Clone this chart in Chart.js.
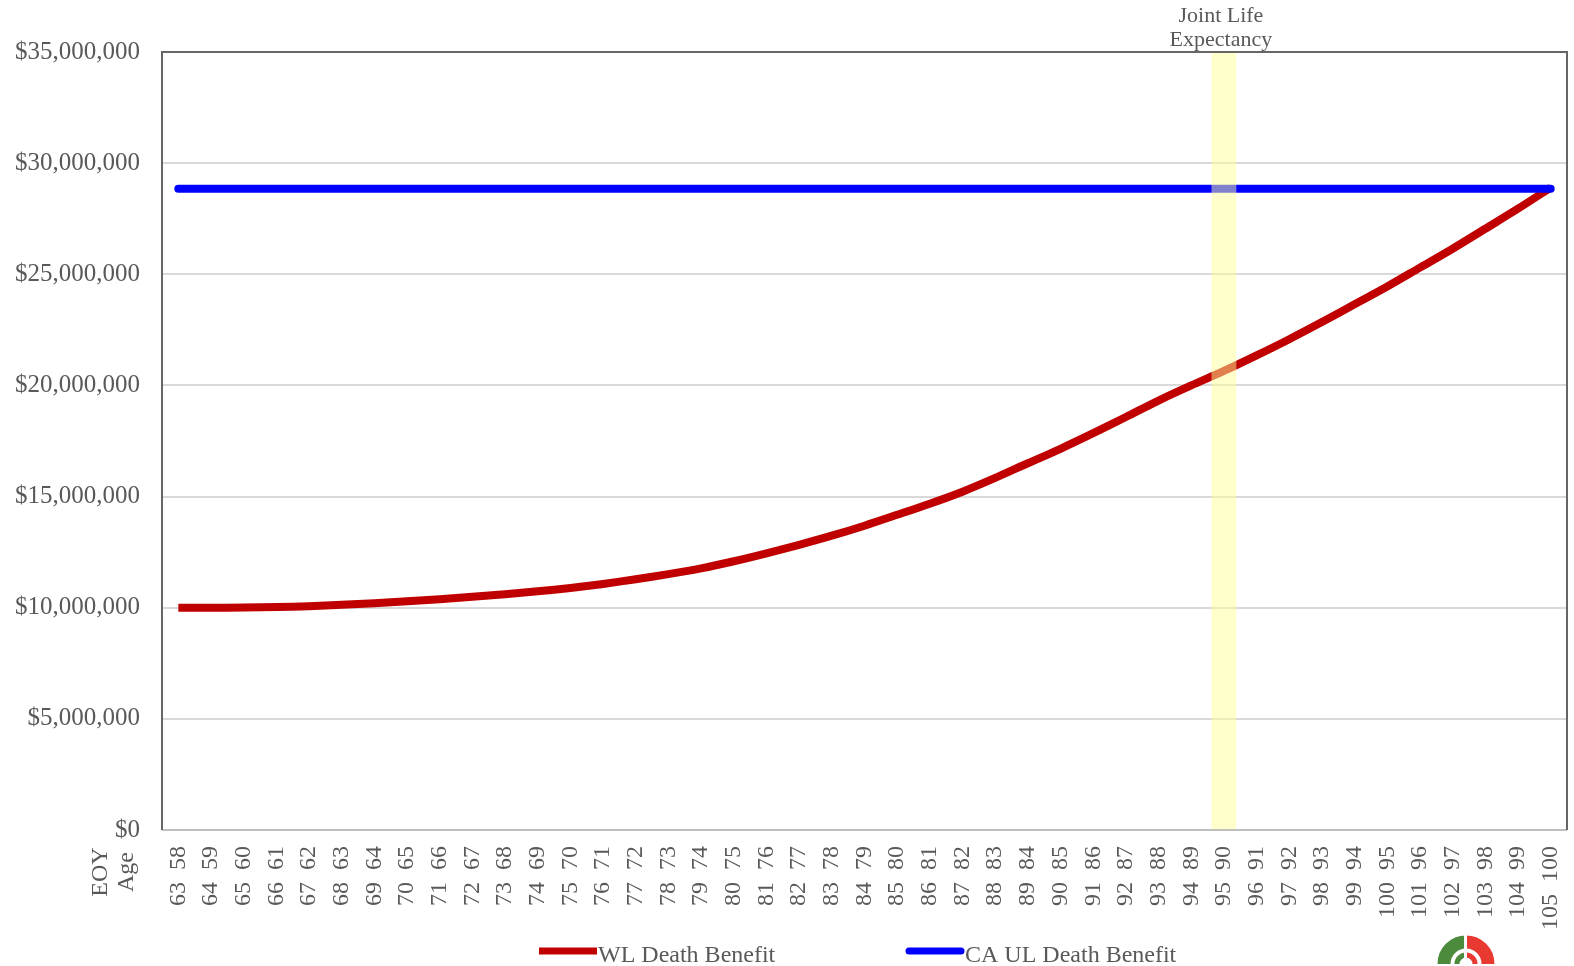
<!DOCTYPE html>
<html>
<head>
<meta charset="utf-8">
<script src="https://cdn.jsdelivr.net/npm/chart.js@4.4.1/dist/chart.umd.min.js"></script>
<style>
  html, body { margin: 0; padding: 0; background: #fff; }
  #wrap { width: 1574px; height: 966px; position: relative; }
</style>
</head>
<body>
<div id="wrap"><canvas id="chart"></canvas></div>
<script>
/* ================= DATA ================= */
const age1 = [63, 64, 65, 66, 67, 68, 69, 70, 71, 72, 73, 74, 75, 76, 77, 78, 79, 80, 81, 82, 83,
  84, 85, 86, 87, 88, 89, 90, 91, 92, 93, 94, 95, 96, 97, 98, 99, 100, 101, 102, 103, 104, 105];
const age2 = [58, 59, 60, 61, 62, 63, 64, 65, 66, 67, 68, 69, 70, 71, 72, 73, 74, 75, 76, 77, 78,
  79, 80, 81, 82, 83, 84, 85, 86, 87, 88, 89, 90, 91, 92, 93, 94, 95, 96, 97, 98, 99, 100];

const wlDeathBenefit = [10000000, 10000000, 10010000, 10030000, 10070000, 10130000, 10200000,
  10290000, 10380000, 10490000, 10610000, 10740000, 10890000, 11070000, 11280000, 11510000,
  11770000, 12090000, 12450000, 12830000, 13240000, 13690000, 14180000, 14680000, 15220000,
  15840000, 16500000, 17150000, 17850000, 18580000, 19320000, 20000000, 20650000, 21350000,
  22080000, 22850000, 23650000, 24450000, 25300000, 26150000, 27050000, 27950000, 28900000];
const caUlDeathBenefit = age1.map(() => 28850000);

const jointLifeIndex = 32;           // "95 90"
const yTicksMax = 35000000;
const yTicksStep = 5000000;

const labels = age1.map((a, i) => a + "  " + age2[i]);
const bandData = age1.map((a, i) => i === jointLifeIndex ? yTicksMax : null);

const FONT = "'Liberation Serif', 'Times New Roman', serif";
const GREY = "#595959";

/* ================= EXTRA DRAWING ================= */
const decorations = {
  id: "decorations",
  afterDatasetsDraw(chart) {
    const { ctx, chartArea: a } = chart;
    ctx.save();
    // bottom line
    ctx.strokeStyle = "#bfbfbf";
    ctx.lineWidth = 2;
    ctx.beginPath();
    ctx.moveTo(a.left, a.bottom);
    ctx.lineTo(a.right, a.bottom);
    ctx.stroke();
    // dark frame left / top / right
    ctx.strokeStyle = "#666";
    ctx.beginPath();
    ctx.moveTo(a.left, a.bottom);
    ctx.lineTo(a.left, a.top);
    ctx.lineTo(a.right, a.top);
    ctx.lineTo(a.right, a.bottom);
    ctx.stroke();
    ctx.restore();
  },
  afterDraw(chart) {
    const { ctx } = chart;
    const x = chart.scales.x;
    ctx.save();
    ctx.fillStyle = GREY;

    // Joint Life Expectancy label
    const bx = x.getPixelForValue(jointLifeIndex) - 3;
    ctx.font = "22px " + FONT;
    ctx.textAlign = "center";
    ctx.textBaseline = "alphabetic";
    ctx.fillText("Joint Life", bx, 22);
    ctx.fillText("Expectancy", bx, 46);

    // EOY Age
    ctx.font = "24px " + FONT;
    ctx.textBaseline = "middle";
    [["EOY", 101], ["Age", 127]].forEach(([t, px]) => {
      ctx.save();
      ctx.translate(px, 872);
      ctx.rotate(-Math.PI / 2);
      ctx.fillText(t, 0, 0);
      ctx.restore();
    });

    // legend
    ctx.font = "24px " + FONT;
    ctx.textAlign = "left";
    ctx.textBaseline = "alphabetic";
    const items = [
      { ds: chart.data.datasets[1], x: 539, cap: "butt" },
      { ds: chart.data.datasets[2], x: 906, cap: "round" }
    ];
    items.forEach(it => {
      ctx.strokeStyle = it.ds.borderColor;
      ctx.lineWidth = 7;
      ctx.lineCap = it.cap;
      ctx.beginPath();
      ctx.moveTo(it.x + (it.cap === "round" ? 3 : 0), 951);
      ctx.lineTo(it.x + 58 - (it.cap === "round" ? 3 : 0), 951);
      ctx.stroke();
      ctx.fillStyle = GREY;
      ctx.fillText(it.ds.label, it.x + 59, 962);
    });

    // logo (partly cut off at the bottom)
    const cx = 1466, cy = 964;
    ctx.lineCap = "butt";
    ctx.lineWidth = 13;
    ctx.strokeStyle = "#4b8b3b";
    ctx.beginPath();
    ctx.arc(cx, cy, 22, Math.PI, Math.PI * 1.5);
    ctx.stroke();
    ctx.strokeStyle = "#e83a30";
    ctx.beginPath();
    ctx.arc(cx, cy, 22, Math.PI * 1.5, Math.PI * 2);
    ctx.stroke();
    ctx.lineWidth = 5;
    ctx.beginPath();
    ctx.arc(cx, cy, 9, Math.PI * 1.5, Math.PI * 2);
    ctx.stroke();
    ctx.strokeStyle = "#4b8b3b";
    ctx.beginPath();
    ctx.arc(cx, cy, 9, Math.PI, Math.PI * 1.5);
    ctx.stroke();
    ctx.fillStyle = "#fff";
    ctx.fillRect(cx - 2, cy - 32, 3, 32);
    ctx.restore();
  }
};

/* ================= CHART ================= */
new Chart(document.getElementById("chart"), {
  type: "line",
  data: {
    labels,
    datasets: [
      {
        type: "bar",
        label: "Joint Life Expectancy",
        data: bandData,
        backgroundColor: "rgba(255, 255, 153, 0.5)",
        borderWidth: 0,
        barPercentage: 0.76,
        categoryPercentage: 1,
        order: 0
      },
      {
        label: "WL Death Benefit",
        data: wlDeathBenefit,
        borderColor: "#c00000",
        backgroundColor: "#c00000",
        borderWidth: 8,
        pointRadius: 0,
        tension: 0.3,
        borderCapStyle: "butt",
        order: 2
      },
      {
        label: "CA UL Death Benefit",
        data: caUlDeathBenefit,
        borderColor: "#0000ff",
        backgroundColor: "#0000ff",
        borderWidth: 8,
        pointRadius: 0,
        borderCapStyle: "round",
        order: 1
      }
    ]
  },
  options: {
    responsive: true,
    maintainAspectRatio: false,
    animation: false,
    layout: { padding: { top: 52, right: 7, left: 0, bottom: 0 } },
    plugins: {
      legend: { display: false },
      tooltip: { enabled: false }
    },
    scales: {
      x: {
        offset: true,
        grid: { display: false, drawTicks: false },
        border: { display: false },
        afterFit: s => {
          s.height = 136;
          s.paddingLeft = 0;
          s.paddingRight = 0;
        },
        ticks: {
          autoSkip: false,
          minRotation: 90,
          maxRotation: 90,
          padding: 16,
          color: GREY,
          font: { family: FONT, size: 24 }
        }
      },
      y: {
        min: 0,
        max: yTicksMax,
        afterFit: s => { s.width = 162; },
        grid: { color: "#d9d9d9", lineWidth: 2, drawTicks: false },
        border: { display: false },
        ticks: {
          stepSize: yTicksStep,
          padding: 22,
          color: GREY,
          font: { family: FONT, size: 25 },
          callback: v => "$" + v.toLocaleString("en-US")
        }
      }
    }
  },
  plugins: [decorations]
});
</script>
</body>
</html>
